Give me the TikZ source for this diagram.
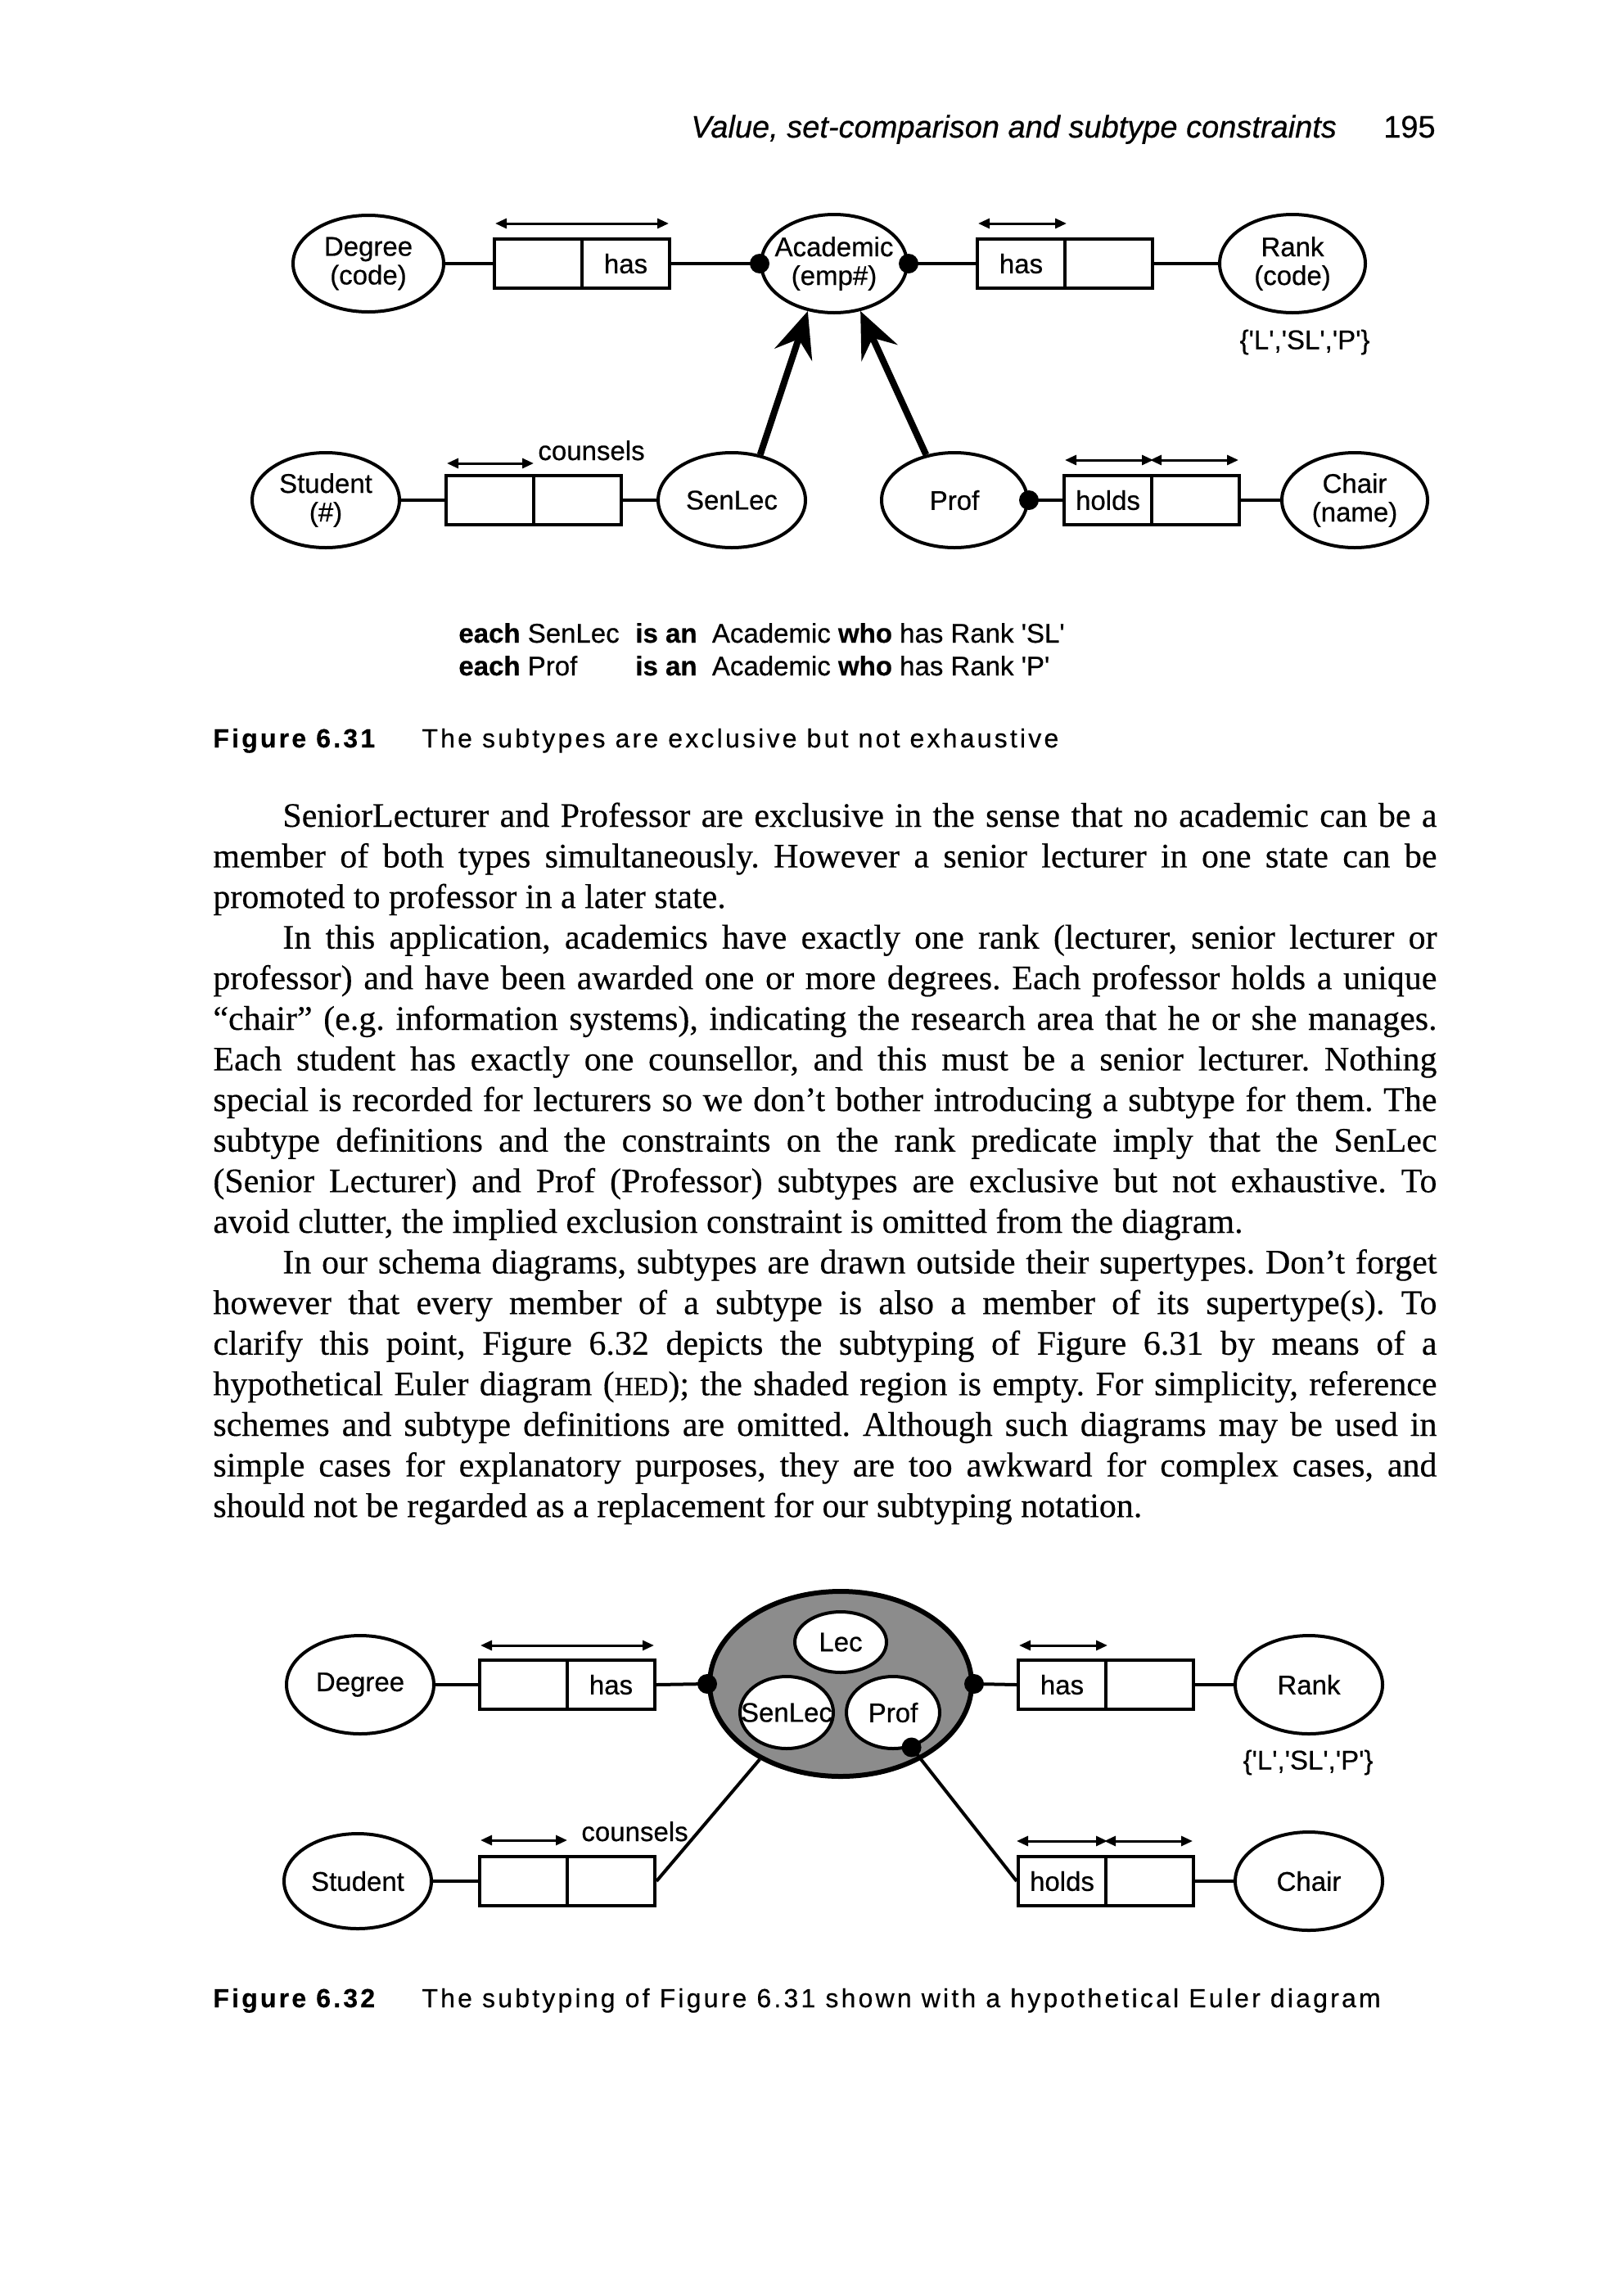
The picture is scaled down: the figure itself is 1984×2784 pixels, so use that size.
\documentclass[tikz,border=0pt]{standalone}
\usepackage{fontspec}
\setmainfont{Liberation Serif}[FakeBold=0.3]
\newfontfamily\dsans{Liberation Sans}[FakeBold=0.5]
\newfontfamily\capsans{Liberation Sans}[LetterSpace=10,FakeBold=0.4]
\usetikzlibrary{shapes.geometric,arrows.meta,calc}
\newcommand\bodyJ[1]{\makebox[747.5pt][s]{#1}}
\newcommand\bodyI[1]{\makebox[705pt][s]{#1}}
\newcommand\sq{\textquotesingle}
\frenchspacing
\begin{document}
\begin{tikzpicture}[x=0.5pt,y=-0.5pt,
  ent/.style={ellipse, draw, line width=2pt, inner sep=0pt},
  lab/.style={inner sep=0pt, align=center, font=\dsans\fontsize{16.5}{17.5}\selectfont},
  cell/.style={draw, line width=2pt, minimum width=53.5pt, minimum height=30pt, inner sep=0pt, font=\dsans\fontsize{16.5}{17.5}\selectfont},
  conn/.style={line width=2pt},
  uc/.style={line width=1.5pt, {Triangle[length=7pt,width=6pt]}-{Triangle[length=7pt,width=6pt]}},
  subt/.style={line width=4pt, -{Stealth[length=28pt,width=24pt,inset=10pt]}},
  body/.style={anchor=base west, inner sep=0pt, font=\fontsize{21}{25}\selectfont},
  capB/.style={anchor=base west, inner sep=0pt, font=\capsans\bfseries\fontsize{16}{18}\selectfont},
  capT/.style={anchor=base west, inner sep=0pt, font=\capsans\fontsize{16}{18}\selectfont},
  stmt/.style={anchor=base west, inner sep=0pt, font=\dsans\fontsize{16.5}{18}\selectfont}
]
\fill[white] (0,0) rectangle (1984,2784);
\useasboundingbox (0,0) rectangle (1984,2784);

% header
\node[anchor=base west, inner sep=0pt, font=\dsans\itshape\fontsize{19}{20}\selectfont] (hdr) at (844,168) {Value, set-comparison and subtype constraints};
\node[anchor=base east, inner sep=0pt, font=\dsans\fontsize{19}{20}\selectfont] (pgno) at (1754,168) {195};

% ================= Figure 6.31 =================
\node[ent, minimum width=92pt, minimum height=59pt] (degree1) at (450,322) {};
\node[lab] (degree1t) at (degree1) {Degree\\(code)};
\node[cell] (r1a) at (657.5,322) {};
\node[cell] (r1b) at (764.5,322) {has};
\node[ent, minimum width=89pt, minimum height=60pt] (academic) at (1019,322) {};
\node[lab] (academict) at (academic) {Academic\\(emp\#)};
\node[cell] (r2a) at (1247.5,322) {has};
\node[cell] (r2b) at (1354.5,322) {};
\node[ent, minimum width=89pt, minimum height=60pt] (rank1) at (1579,322) {};
\node[lab] (rank1t) at (rank1) {Rank\\(code)};
\node[lab] (vals1) at (1594,418) {\{\sq L\sq,\sq SL\sq,\sq P\sq\}};

\node[ent, minimum width=90pt, minimum height=58pt] (student1) at (398,611) {};
\node[lab] (student1t) at (student1) {Student\\(\#)};
\node[cell] (r3a) at (598.5,611) {};
\node[cell] (r3b) at (705.5,611) {};
\node[lab, anchor=base west] (couns1) at (657,562) {counsels};
\node[ent, minimum width=90pt, minimum height=58pt] (senlec1) at (894,611) {};
\node[lab] (senlec1t) at (senlec1) {SenLec};
\node[ent, minimum width=89pt, minimum height=58pt] (prof1) at (1166,611) {};
\node[lab] (prof1t) at (prof1) {Prof};
\node[cell] (r4a) at (1353.5,611) {holds};
\node[cell] (r4b) at (1460.5,611) {};
\node[ent, minimum width=89pt, minimum height=58pt] (chair1) at (1655,611) {};
\node[lab] (chair1t) at (chair1) {Chair\\(name)};

% connectors
\draw[conn] (degree1.east) -- (r1a.west);
\draw[conn] (r1b.east) -- (academic.west);
\draw[conn] (academic.east) -- (r2a.west);
\draw[conn] (r2b.east) -- (rank1.west);
\draw[conn] (student1.east) -- (r3a.west);
\draw[conn] (r3b.east) -- (senlec1.west);
\draw[conn] (prof1.east) -- (r4a.west);
\draw[conn] (r4b.east) -- (chair1.west);
\fill (academic.west) circle[radius=6pt];
\fill (academic.east) circle[radius=6pt];
\fill (prof1.east) circle[radius=6pt];

% uniqueness constraints
\draw[uc] ($(r1a.north west)+(3,-17)$) -- ($(r1b.north east)+(-3,-17)$);
\draw[uc] ($(r2a.north west)+(3,-17)$) -- ($(r2a.north east)+(0,-17)$);
\draw[uc] ($(r3a.north west)+(3,-13)$) -- ($(r3a.north east)+(-2,-13)$);
\draw[uc] ($(r4a.north west)+(3,-17)$) -- ($(r4a.north east)+(0,-17)$);
\draw[uc] ($(r4b.north west)+(0,-17)$) -- ($(r4b.north east)+(-3,-17)$);

% subtype arrows
\draw[subt] (senlec1.58) -- (academic.-119);
\draw[subt] (prof1.122) -- (academic.-61);

% subtype definitions
\node[stmt] (def1a) at (560,785) {\textbf{each} SenLec};
\node[stmt] (def1b) at (776,785) {\textbf{is an}\ \ Academic \textbf{who} has Rank \sq SL\sq};
\node[stmt] (def2a) at (560,825) {\textbf{each} Prof};
\node[stmt] (def2b) at (776,825) {\textbf{is an}\ \ Academic \textbf{who} has Rank \sq P\sq};

% caption
\node[capB] (cap1n) at (260,913) {Figure 6.31};
\node[capT] (cap1t) at (515,913) {The subtypes are exclusive but not exhaustive};

% ================= body text =================
\node[body] (l0) at (345,1010) {\bodyI{SeniorLecturer and Professor are exclusive in the sense that no academic can be a}};
\node[body] (l1) at (260,1059.6) {\bodyJ{member of both types simultaneously. However a senior lecturer in one state can be}};
\node[body] (l2) at (260,1109.2) {promoted to professor in a later state.};
\node[body] (l3) at (345,1158.8) {\bodyI{In this application, academics have exactly one rank (lecturer, senior lecturer or}};
\node[body] (l4) at (260,1208.4) {\bodyJ{professor) and have been awarded one or more degrees. Each professor holds a unique}};
\node[body] (l5) at (260,1258) {\bodyJ{``chair'' (e.g. information systems), indicating the research area that he or she manages.}};
\node[body] (l6) at (260,1307.6) {\bodyJ{Each student has exactly one counsellor, and this must be a senior lecturer. Nothing}};
\node[body] (l7) at (260,1357.2) {\bodyJ{special is recorded for lecturers so we don't bother introducing a subtype for them. The}};
\node[body] (l8) at (260,1406.8) {\bodyJ{subtype definitions and the constraints on the rank predicate imply that the SenLec}};
\node[body] (l9) at (260,1456.4) {\bodyJ{(Senior Lecturer) and Prof (Professor) subtypes are exclusive but not exhaustive. To}};
\node[body] (l10) at (260,1506) {avoid clutter, the implied exclusion constraint is omitted from the diagram.};
\node[body] (l11) at (345,1555.6) {\bodyI{In our schema diagrams, subtypes are drawn outside their supertypes. Don't forget}};
\node[body] (l12) at (260,1605.2) {\bodyJ{however that every member of a subtype is also a member of its supertype(s). To}};
\node[body] (l13) at (260,1654.8) {\bodyJ{clarify this point, Figure 6.32 depicts the subtyping of Figure 6.31 by means of a}};
\node[body] (l14) at (260,1704.4) {\bodyJ{hypothetical Euler diagram ({\fontsize{16}{16}\selectfont HED}); the shaded region is empty. For simplicity, reference}};
\node[body] (l15) at (260,1754) {\bodyJ{schemes and subtype definitions are omitted. Although such diagrams may be used in}};
\node[body] (l16) at (260,1803.6) {\bodyJ{simple cases for explanatory purposes, they are too awkward for complex cases, and}};
\node[body] (l17) at (260,1853.2) {should not be regarded as a replacement for our subtyping notation.};

% ================= Figure 6.32 =================
\node[ent, minimum width=90pt, minimum height=60pt] (degree2) at (440,2058) {};
\node[lab] (degree2t) at (degree2) {Degree};
\node[cell] (r5a) at (639.5,2058) {};
\node[cell] (r5b) at (746.5,2058) {has};
\node[ent, line width=3pt, fill=black!45, minimum width=160pt, minimum height=113pt] (euler) at (1027,2057) {};
\node[ent, fill=white, minimum width=56pt, minimum height=37pt] (lec) at (1027,2006) {};
\node[ent, fill=white, minimum width=57pt, minimum height=44pt] (senlec2) at (961,2092) {};
\node[ent, fill=white, minimum width=57pt, minimum height=44pt] (prof2) at (1091,2092) {};
\node[lab] (lect) at (lec) {Lec};
\node[lab] (senlec2t) at (senlec2) {SenLec};
\node[lab] (prof2t) at (prof2) {Prof};
\node[cell] (r6a) at (1297.5,2058) {has};
\node[cell] (r6b) at (1404.5,2058) {};
\node[ent, minimum width=90pt, minimum height=60pt] (rank2) at (1599,2058) {};
\node[lab] (rank2t) at (rank2) {Rank};
\node[lab] (vals2) at (1598,2153) {\{\sq L\sq,\sq SL\sq,\sq P\sq\}};

\node[ent, minimum width=90pt, minimum height=58pt] (student2) at (437,2298) {};
\node[lab] (student2t) at (student2) {Student};
\node[cell] (r7a) at (639.5,2298) {};
\node[cell] (r7b) at (746.5,2298) {};
\node[lab, anchor=base west] (couns2) at (710,2249) {counsels};
\node[cell] (r8a) at (1297.5,2298) {holds};
\node[cell] (r8b) at (1404.5,2298) {};
\node[ent, minimum width=90pt, minimum height=60pt] (chair2) at (1599,2298) {};
\node[lab] (chair2t) at (chair2) {Chair};

\draw[conn] (degree2.east) -- (r5a.west);
\draw[conn] (r5b.east) -- (euler.west);
\draw[conn] (euler.east) -- (r6a.west);
\draw[conn] (r6b.east) -- (rank2.west);
\draw[conn] (student2.east) -- (r7a.west);
\draw[conn] (r7b.east) -- (euler.-137);
\draw[conn] (prof2.-62) -- (r8a.west);
\draw[conn] (r8b.east) -- (chair2.west);
\fill (euler.west) circle[radius=6pt];
\fill (euler.east) circle[radius=6pt];
\fill (prof2.-62) circle[radius=6pt];

\draw[uc] ($(r5a.north west)+(3,-16)$) -- ($(r5b.north east)+(-3,-16)$);
\draw[uc] ($(r6a.north west)+(3,-16)$) -- ($(r6a.north east)+(0,-16)$);
\draw[uc] ($(r7a.north west)+(3,-18)$) -- ($(r7a.north east)+(-2,-18)$);
\draw[uc] ($(r8a.north west)+(0,-17)$) -- ($(r8a.north east)+(0,-17)$);
\draw[uc] ($(r8b.north west)+(0,-17)$) -- ($(r8b.north east)+(-3,-17)$);

\node[capB] (cap2n) at (260,2452) {Figure 6.32};
\node[capT] (cap2t) at (515,2452) {The subtyping of Figure 6.31 shown with a hypothetical Euler diagram};
\end{tikzpicture}
\end{document}
